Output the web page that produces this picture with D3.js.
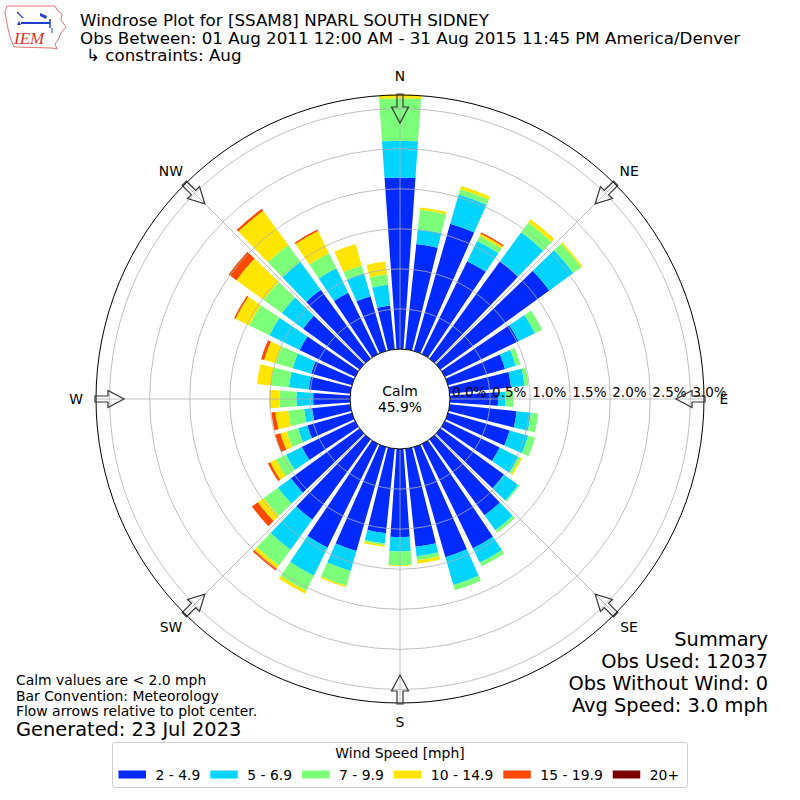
<!DOCTYPE html>
<html>
<head>
<meta charset="utf-8">
<script src="https://cdn.jsdelivr.net/npm/d3@7/dist/d3.min.js"></script>
<style>
  body { margin: 0; background: #fff; }
  svg { font-family: "DejaVu Sans", sans-serif; }
</style>
</head>
<body>
<svg id="chart" width="800" height="800"></svg>
<script>
// direction bins, degrees clockwise from north
var directions = [0, 10, 20, 30, 40, 50, 60, 70, 80, 90, 100, 110, 120, 130, 140, 150, 160, 170,
                  180, 190, 200, 210, 220, 230, 240, 250, 260, 270, 280, 290, 300, 310, 320, 330, 340, 350];
var speedBins = ['2 - 4.9', '5 - 6.9', '7 - 9.9', '10 - 14.9', '15 - 19.9', '20+'];
var binColors = ['#002aff', '#00d4ff', '#7cff79', '#ffe500', '#ff4800', '#7f0000'];

// frequency [%] per direction, one array per speed bin
var pct2to5   = [2.14, 1.32, 1.65, 1.29, 1.50, 1.68, 1.02, 0.74, 0.77, 0.60, 0.84, 0.80, 0.76, 0.98, 1.17, 1.45, 1.43, 1.23,
                 1.10, 1.06, 1.35, 1.44, 1.24, 1.06, 0.74, 0.58, 0.48, 0.46, 0.52, 0.53, 0.77, 0.87, 1.06, 0.85, 0.71, 0.55];
var pct5to7   = [0.46, 0.19, 0.38, 0.28, 0.45, 0.37, 0.23, 0.14, 0.17, 0.09, 0.18, 0.24, 0.26, 0.22, 0.23, 0.20, 0.36, 0.12,
                 0.18, 0.13, 0.26, 0.39, 0.46, 0.20, 0.22, 0.12, 0.10, 0.21, 0.25, 0.24, 0.42, 0.33, 0.43, 0.34, 0.30, 0.26];
var pct7to10  = [0.53, 0.24, 0.07, 0.07, 0.15, 0.12, 0.10, 0.06, 0.05, 0.10, 0.09, 0.09, 0.03, 0.02, 0.04, 0.05, 0.07, 0.05,
                 0.17, 0.02, 0.19, 0.21, 0.25, 0.22, 0.14, 0.15, 0.20, 0.21, 0.23, 0.22, 0.28, 0.28, 0.26, 0.21, 0.10, 0.13];
var pct10to15 = [0.05, 0.03, 0.04, 0.03, 0.05, 0.02, 0, 0, 0, 0, 0, 0, 0.02, 0, 0, 0, 0, 0.04,
                 0.01, 0.02, 0.02, 0.04, 0.04, 0.09, 0.08, 0.08, 0.16, 0.13, 0.17, 0.15, 0.19, 0.42, 0.53, 0.31, 0.28, 0.16];
var pct15to20 = [0, 0, 0, 0.02, 0, 0, 0, 0, 0, 0, 0, 0, 0, 0, 0, 0, 0, 0,
                 0, 0, 0, 0, 0.03, 0.09, 0.03, 0.07, 0.05, 0, 0, 0.04, 0.02, 0.12, 0.03, 0.02, 0, 0];
var pct20up   = [0, 0, 0, 0, 0, 0, 0, 0, 0, 0, 0, 0, 0, 0, 0, 0, 0, 0,
                 0, 0, 0, 0, 0, 0, 0, 0, 0, 0, 0, 0, 0, 0, 0, 0, 0, 0];

var radialTicks = [0, 0.5, 1.0, 1.5, 2.0, 2.5, 3.0];
var compass = ['N', 'NE', 'E', 'SE', 'S', 'SW', 'W', 'NW'];
var calmPct = 45.9;

var titleLines = ['Windrose Plot for [SSAM8] NPARL SOUTH SIDNEY',
                  'Obs Between: 01 Aug 2011 12:00 AM - 31 Aug 2015 11:45 PM America/Denver',
                  '\u21b3 constraints: Aug'];
var noteLines = ['Calm values are < 2.0 mph', 'Bar Convention: Meteorology', 'Flow arrows relative to plot center.'];
var summaryLines = ['Summary', 'Obs Used: 12037', 'Obs Without Wind: 0', 'Avg Speed: 3.0 mph'];

var cx = 400, cy = 399;
var svg = d3.select('#chart');

var rows = directions.map(function(d, i) {
  return { dir: d, b0: pct2to5[i], b1: pct5to7[i], b2: pct7to10[i], b3: pct10to15[i], b4: pct15to20[i], b5: pct20up[i] };
});
var keys = ['b0', 'b1', 'b2', 'b3', 'b4', 'b5'];
var series = d3.stack().keys(keys)(rows);

var r = d3.scaleLinear().domain([0, 3.17]).range([50, 304]);
var theta = d3.scaleLinear().domain([0, 360]).range([0, 2 * Math.PI]);
var halfWidth = 4; // bars fill 8 of each 10 degree sector

var rose = svg.append('g').attr('transform', 'translate(' + cx + ',' + cy + ')');

var arc = d3.arc()
  .innerRadius(function(d) { return r(d[0]); })
  .outerRadius(function(d) { return r(d[1]); })
  .startAngle(function(d) { return theta(d.data.dir - halfWidth); })
  .endAngle(function(d) { return theta(d.data.dir + halfWidth); });

rose.selectAll('g.layer')
  .data(series)
  .enter().append('g')
  .attr('class', 'layer')
  .attr('fill', function(d, i) { return binColors[i]; })
  .selectAll('path')
  .data(function(d) { return d.filter(function(p) { return p[1] > p[0]; }); })
  .enter().append('path')
  .attr('d', arc);

// grid on top of the bars, like the original
var grid = rose.append('g').attr('fill', 'none').attr('stroke', '#b0b0b0').attr('stroke-width', 0.8);
grid.selectAll('circle')
  .data(radialTicks.slice(1))
  .enter().append('circle')
  .attr('r', function(d) { return r(d); });
grid.selectAll('line')
  .data(d3.range(0, 360, 45))
  .enter().append('line')
  .attr('x1', 0).attr('y1', 0)
  .attr('x2', function(d) { return r(3.17) * Math.sin(theta(d)); })
  .attr('y2', function(d) { return -r(3.17) * Math.cos(theta(d)); });

// calm circle
rose.append('circle').attr('r', r(0)).attr('fill', '#fff').attr('stroke', '#000').attr('stroke-width', 1);
rose.append('text').attr('x', 0).attr('y', -3).attr('text-anchor', 'middle').attr('font-size', 13.9).text('Calm');
rose.append('text').attr('x', 0).attr('y', 13).attr('text-anchor', 'middle').attr('font-size', 13.9).text(calmPct.toFixed(1) + '%');

// outer frame
rose.append('circle').attr('r', r(3.17)).attr('fill', 'none').attr('stroke', '#000').attr('stroke-width', 1);

// radial tick labels along east axis
rose.selectAll('text.rtick')
  .data(radialTicks)
  .enter().append('text')
  .attr('class', 'rtick')
  .attr('x', function(d) { return r(d) + 2; })
  .attr('y', -2)
  .attr('font-size', 13.5)
  .text(function(d) { return d.toFixed(1) + '%'; });

// flow arrows pointing toward plot center
var arrowPath = 'M-3,-305 L3,-305 L3,-292 L8.5,-292 L0,-276 L-8.5,-292 L-3,-292 Z';
rose.selectAll('path.arrow')
  .data(d3.range(0, 360, 45))
  .enter().append('path')
  .attr('class', 'arrow')
  .attr('d', arrowPath)
  .attr('transform', function(d) { return 'rotate(' + d + ')'; })
  .attr('fill', 'none')
  .attr('stroke', '#333')
  .attr('stroke-width', 1.2);

// compass labels
rose.selectAll('text.compass')
  .data(compass)
  .enter().append('text')
  .attr('class', 'compass')
  .attr('x', function(d, i) { return 324 * Math.sin(theta(i * 45)); })
  .attr('y', function(d, i) { return -323 * Math.cos(theta(i * 45)) + 5; })
  .attr('text-anchor', 'middle')
  .attr('font-size', 13.9)
  .text(function(d) { return d; });

// titles
svg.selectAll('text.title')
  .data(titleLines)
  .enter().append('text')
  .attr('class', 'title')
  .attr('x', function(d, i) { return i == 2 ? 86 : 80; })
  .attr('y', function(d, i) { return 26 + i * 17.5; })
  .attr('font-size', 16.7)
  .text(function(d) { return d; });

// notes, bottom left
svg.selectAll('text.note')
  .data(noteLines)
  .enter().append('text')
  .attr('class', 'note')
  .attr('x', 16)
  .attr('y', function(d, i) { return 685 + i * 15.5; })
  .attr('font-size', 13.9)
  .text(function(d) { return d; });
svg.append('text').attr('x', 16).attr('y', 736).attr('font-size', 19.4).text('Generated: 23 Jul 2023');

// summary, bottom right
svg.selectAll('text.summary')
  .data(summaryLines)
  .enter().append('text')
  .attr('class', 'summary')
  .attr('x', 768)
  .attr('y', function(d, i) { return 646 + i * 22; })
  .attr('text-anchor', 'end')
  .attr('font-size', 19.4)
  .text(function(d) { return d; });

// legend
var legend = svg.append('g');
legend.append('rect')
  .attr('x', 112.5).attr('y', 742.5).attr('width', 575).attr('height', 45)
  .attr('rx', 3).attr('fill', '#fff').attr('stroke', '#ccc');
legend.append('text').attr('x', 400).attr('y', 757.5).attr('text-anchor', 'middle').attr('font-size', 13.9).text('Wind Speed [mph]');
var lx = 118.5;
speedBins.forEach(function(label, i) {
  legend.append('rect').attr('x', lx).attr('y', 770.5).attr('width', 27.5).attr('height', 8).attr('fill', binColors[i]);
  var t = legend.append('text').attr('x', lx + 37).attr('y', 779.5).attr('font-size', 13.9).text(label);
  lx += 37 + t.node().getComputedTextLength() + 10;
});

// IEM logo
var logo = svg.append('g');
logo.append('path')
  .attr('d', 'M7,6 L55,6 L57,10 L62,14 L61,20 L66,27 L61,33 L58,40 L55,44 L57,49 L52,48 L14,47 L11,40 L9,33 L7,24 L5,12 Z')
  .attr('fill', '#fff').attr('stroke', '#d9534f').attr('stroke-width', 0.8);
logo.append('line').attr('x1', 21).attr('y1', 23).attr('x2', 50).attr('y2', 23).attr('stroke', '#1f3fcf').attr('stroke-width', 2);
logo.append('line').attr('x1', 50).attr('y1', 19).attr('x2', 50).attr('y2', 28).attr('stroke', '#1f3fcf').attr('stroke-width', 1.5);
logo.append('line').attr('x1', 17).attr('y1', 12).attr('x2', 23).attr('y2', 18).attr('stroke', '#1f3fcf').attr('stroke-width', 1.2);
logo.append('path').attr('d', 'M40,13 L47,16 L46,19 L40,16 Z').attr('fill', '#1f3fcf');
logo.append('path').attr('d', 'M19,21 L21,25 L17,25 Z').attr('fill', '#1f3fcf');
logo.append('line').attr('x1', 52).attr('y1', 28).attr('x2', 52).attr('y2', 33).attr('stroke', '#1f3fcf').attr('stroke-width', 1);
logo.append('text').attr('x', 14).attr('y', 44).attr('font-family', 'Liberation Serif, serif').attr('font-style', 'italic')
  .attr('font-size', 17).attr('fill', '#d9342b').text('IEM');
</script>
</body>
</html>
